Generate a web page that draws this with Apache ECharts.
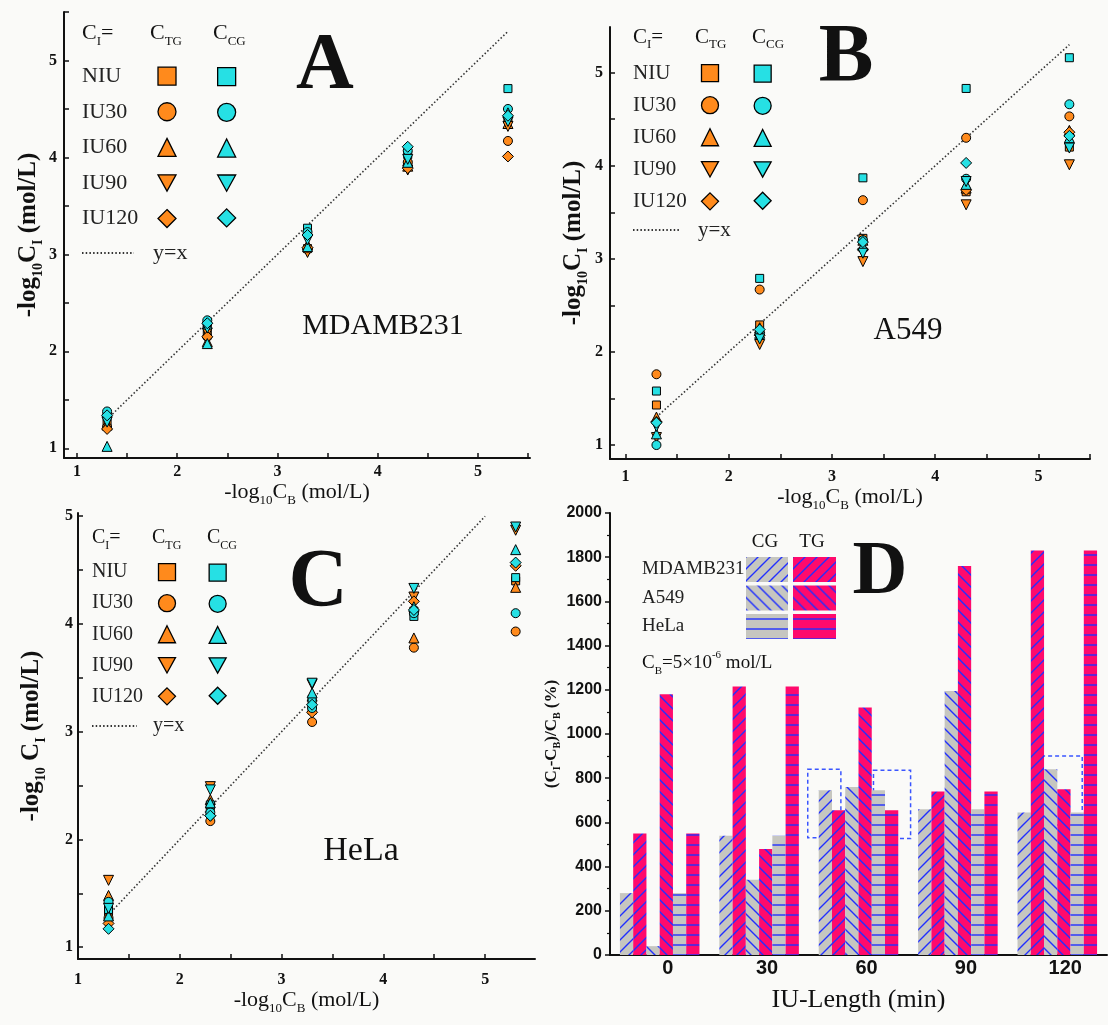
<!DOCTYPE html>
<html>
<head>
<meta charset="utf-8">
<script src="https://cdn.jsdelivr.net/npm/echarts@6/dist/echarts.min.js"></script>
<style>
  html, body { margin: 0; padding: 0; background: #fafaf8; }
  #chart { width: 1108px; height: 1025px; }
</style>
</head>
<body>
<div id="chart"></div>
<script>
// ---- data ----
// x position of every point: -log10 CB for CB = 5e-2 ... 5e-6 mol/L
const logCB = [1.3, 2.3, 3.3, 4.3, 5.3];
const protocols = ['NIU', 'IU30', 'IU60', 'IU90', 'IU120'];
const intTicks = [1, 2, 3, 4, 5];
const halfTicks = [1, 1.5, 2, 2.5, 3, 3.5, 4, 4.5, 5, 5.5];

// -log10 CI, one row per protocol (NIU, IU30, IU60, IU90, IU120)
const mdaTG = [
  [1.25, 2.20, 3.06, 3.93, 4.40],
  [1.22, 2.15, 3.05, 3.95, 4.17],
  [1.24, 2.10, 3.10, 3.91, 4.35],
  [1.28, 2.19, 3.02, 3.87, 4.32],
  [1.20, 2.15, 3.07, 3.89, 4.01]
];
const mdaCG = [
  [1.33, 2.27, 3.27, 4.03, 4.71],
  [1.38, 2.32, 3.23, 4.07, 4.50],
  [1.02, 2.08, 3.08, 3.95, 4.46],
  [1.27, 2.24, 3.15, 3.98, 4.37],
  [1.34, 2.29, 3.20, 4.11, 4.43]
];
const a549TG = [
  [1.43, 2.29, 3.22, 3.72, 4.20],
  [1.76, 2.67, 3.63, 4.30, 4.53],
  [1.30, 2.26, 3.20, 3.76, 4.38],
  [1.08, 2.08, 2.97, 3.58, 4.01],
  [1.25, 2.18, 3.10, 3.74, 4.36]
];
const a549CG = [
  [1.58, 2.79, 3.87, 4.83, 5.16],
  [1.00, 2.20, 3.20, 3.86, 4.66],
  [1.12, 2.20, 3.14, 3.80, 4.30],
  [1.20, 2.14, 3.06, 3.83, 4.19],
  [1.24, 2.24, 3.18, 4.03, 4.32]
];
const helaTG = [
  [1.33, 2.30, 3.20, 4.12, 4.40],
  [1.27, 2.17, 3.09, 3.78, 3.93],
  [1.48, 2.37, 3.33, 3.87, 4.34],
  [1.62, 2.49, 3.44, 4.25, 4.87],
  [1.22, 2.22, 3.18, 4.21, 4.54]
];
const helaCG = [
  [1.35, 2.32, 3.30, 4.07, 4.43],
  [1.42, 2.25, 3.22, 4.10, 4.10],
  [1.29, 2.34, 3.36, 4.16, 4.69],
  [1.36, 2.46, 3.45, 4.33, 4.90],
  [1.17, 2.22, 3.25, 4.13, 4.57]
];
// ends of the y=x reference lines
const yxA = [1.3, 5.3];
const yxB = [1.3, 5.3];
const yxC = [1.3, 5.0];

// panel D: (CI-CB)/CB in %, CB = 5e-6 mol/L
const iuLength = ['0', '30', '60', '90', '120'];
const mdaCGpct = [280, 540, 745, 660, 645];
const mdaTGpct = [550, 1215, 655, 740, 1830];
const a549CGpct = [40, 340, 760, 1195, 840];
const a549TGpct = [1180, 480, 1120, 1760, 750];
const helaCGpct = [280, 540, 745, 660, 645];
const helaTGpct = [550, 1215, 655, 740, 1830];
// dashed boxes: [category index, from slot, to slot, low %, high %]
const dBoxes = [
  [2, -3.83, -1.33, 530, 840],
  [2, 1.13, 3.93, 527, 836],
  [4, -1.75, 1.88, 588, 900]
];

// ---- styles ----
const serif = '"Liberation Serif", "Times New Roman", serif';
const sans = '"Liberation Sans", Arial, sans-serif';
const ink = '#111';
const orange = '#ff8a1c';
const cyan = '#26e0e4';
const grey = '#c6c6c0';
const pink = '#ff0a6c';
const symbols = ['rect', 'circle', 'triangle', 'path://M0,0L10,0L5,9Z', 'diamond'];
const symSizes = [8, 9, 10, 10, 11];

function hatch(bg, kind) {
  const s = kind === '-' ? 10 : 12;
  const c = document.createElement('canvas');
  c.width = c.height = s;
  const g = c.getContext('2d');
  g.fillStyle = bg;
  g.fillRect(0, 0, s, s);
  g.strokeStyle = '#2130ff';
  g.lineWidth = 1.4;
  g.beginPath();
  if (kind === '/') {
    g.moveTo(-1, s + 1); g.lineTo(s + 1, -1);
    g.moveTo(-1, 1); g.lineTo(1, -1);
    g.moveTo(s - 1, s + 1); g.lineTo(s + 1, s - 1);
  } else if (kind === '\\') {
    g.moveTo(-1, -1); g.lineTo(s + 1, s + 1);
    g.moveTo(s - 1, -1); g.lineTo(s + 1, 1);
    g.moveTo(-1, s - 1); g.lineTo(1, s + 1);
  } else {
    g.moveTo(0, s / 2); g.lineTo(s, s / 2);
  }
  g.stroke();
  return { image: c, repeat: 'repeat' };
}

function richName(text, size, bold, lh) {
  const w = bold ? 'bold' : 'normal';
  return {
    name: text,
    nameTextStyle: {
      rich: {
        m: { fontSize: size, fontWeight: w, fontFamily: serif, color: ink, lineHeight: lh },
        s: { fontSize: Math.round(size * 0.58), fontWeight: w, fontFamily: serif, color: ink,
             lineHeight: Math.round(size * 0.58), verticalAlign: 'bottom' }
      }
    }
  };
}

function valueAxis(gi, min, max, nm, gap, margin, extra) {
  return Object.assign({
    type: 'value', gridIndex: gi, min: min, max: max,
    nameLocation: 'middle', nameGap: gap,
    axisLine: { lineStyle: { color: ink, width: 2 } },
    axisTick: { inside: true, length: 5, customValues: halfTicks, lineStyle: { color: ink, width: 1.5 } },
    axisLabel: { customValues: intTicks, color: ink, fontFamily: serif, fontWeight: 'bold', fontSize: 16, margin: margin },
    splitLine: { show: false }
  }, nm, extra || {});
}

// scatter panels layout
const panels = [
  { key: 'A', tg: mdaTG, cg: mdaCG, yx: yxA,
    grid: { left: 64, top: 12, width: 466, height: 446 },
    x: [0.87, 5.52], y: [0.9, 5.5], xGap: 18, yGap: 19, xMargin: 6, yMargin: 7, yName: '{m|-log}{s|10}{m|C}{s|I}{m| (mol/L)}',
    lg: { left: 82, first: 76, pitch: 35.3, s: 18, tgX: 167, cgX: 226, font: 22, lineY: 253, lineW: 52, linePad: 14,
          head: 33, heads: [82, 150, 213] } },
  { key: 'B', tg: a549TG, cg: a549CG, yx: yxB,
    grid: { left: 610, top: 27, width: 480, height: 432 },
    x: [0.85, 5.5], y: [0.85, 5.49], xGap: 18, yGap: 20, xMargin: 10, yMargin: 7, yName: '{m|-log}{s|10}{m|C}{s|I}{m| (mol/L)}',
    lg: { left: 633, first: 73, pitch: 31.75, s: 17, tgX: 710, cgX: 762, font: 21, lineY: 230, lineW: 46, linePad: 14,
          head: 37, heads: [633, 695, 752] } },
  { key: 'C', tg: helaTG, cg: helaCG, yx: yxC,
    grid: { left: 78, top: 513, width: 457, height: 446 },
    x: [1.0, 5.49], y: [0.89, 5.03], xGap: 26, yGap: 30, xMargin: 13, yMargin: 5, yName: '{m|-log}{s|10}{m| C}{s|I}{m| (mol/L)}',
    lg: { left: 92, first: 572, pitch: 30.75, s: 17, tgX: 167, cgX: 217, font: 20, lineY: 726, lineW: 45, linePad: 11,
          head: 538, heads: [92, 152, 207] } }
];

const grids = [];
const xAxes = [];
const yAxes = [];
const series = [];
const legends = [];
const graphics = [];

function txt(x, y, text, size, weight, align, rich) {
  return {
    type: 'text', x: x, y: y, silent: true,
    style: { text: text, fontSize: size, fontWeight: weight || 'normal', fontFamily: serif, fill: ink,
             align: align || 'center', verticalAlign: 'middle', rich: rich }
  };
}
function subRich(size) {
  return {
    m: { fontSize: size, fontFamily: serif, fill: ink, color: ink, lineHeight: size + 8 },
    s: { fontSize: Math.round(size * 0.6), fontFamily: serif, color: ink, lineHeight: Math.round(size * 0.6), verticalAlign: 'bottom' },
    p: { fontSize: Math.round(size * 0.6), fontFamily: serif, color: ink, lineHeight: Math.round(size * 0.6), verticalAlign: 'top' }
  };
}

panels.forEach((p, gi) => {
  grids.push(p.grid);
  xAxes.push(valueAxis(gi, p.x[0], p.x[1], richName('{m|-log}{s|10}{m|C}{s|B}{m| (mol/L)}', 22, false, 30), p.xGap, p.xMargin));
  yAxes.push(valueAxis(gi, p.y[0], p.y[1], richName(p.yName, 25, true, 32), p.yGap, p.yMargin));

  const lineName = p.key + ' y=x';
  series.push({
    type: 'line', name: lineName, xAxisIndex: gi, yAxisIndex: gi, symbol: 'none', z: 1, silent: true,
    data: p.yx.map(v => [v, v]),
    lineStyle: { color: '#333', width: 1.6, type: [1.5, 2.2] }
  });
  const tgNames = [], cgNames = [];
  protocols.forEach((prot, k) => {
    ['TG', 'CG'].forEach(grp => {
      const name = p.key + ' ' + grp + ' ' + prot;
      (grp === 'TG' ? tgNames : cgNames).push(name);
      const vals = grp === 'TG' ? p.tg[k] : p.cg[k];
      series.push({
        type: 'scatter', name: name, xAxisIndex: gi, yAxisIndex: gi,
        symbol: symbols[k], symbolSize: symSizes[k], z: grp === 'TG' ? 3 : 4,
        data: logCB.map((x, i) => [x, vals[i]]),
        itemStyle: { color: grp === 'TG' ? orange : cyan, borderColor: '#000', borderWidth: 1, opacity: 1 }
      });
    });
  });

  const L = p.lg;
  const s = L.s;
  const rowRich = { t: { width: L.tgX - s / 2 - 5 - L.left, align: 'left', fontSize: L.font, fontFamily: serif, color: '#222', lineHeight: s } };
  legends.push({
    orient: 'vertical', align: 'right', left: L.left, top: L.first - (L.font - 0.3) / 2, padding: 0,
    itemWidth: s, itemHeight: s, itemGap: L.pitch - (L.font - 0.3), selectedMode: false,
    data: tgNames, formatter: n => '{t|' + n.split(' ')[2] + '}',
    textStyle: { rich: rowRich },
    itemStyle: { borderColor: '#000', borderWidth: 1.3 }
  });
  legends.push({
    orient: 'vertical', align: 'left', left: L.cgX - s / 2, top: L.first - s / 2, padding: 0,
    itemWidth: s, itemHeight: s, itemGap: L.pitch - (s + 0.9), selectedMode: false,
    data: cgNames, formatter: () => '',
    itemStyle: { borderColor: '#000', borderWidth: 1.3 }
  });
  legends.push({
    orient: 'horizontal', align: 'left', left: L.left - 1, top: L.lineY - L.font / 2, padding: 0,
    itemWidth: L.lineW, itemHeight: 14, selectedMode: false,
    data: [lineName], formatter: () => '{t|y=x}',
    itemStyle: { opacity: 0 },
    textStyle: { rich: { t: { fontSize: L.font, fontFamily: serif, color: '#222', padding: [0, 0, 0, L.linePad], lineHeight: 14 } } }
  });

  const hr = subRich(L.font);
  graphics.push(txt(L.heads[0], L.head, '{m|C}{s|I}{m|=}', L.font, 'normal', 'left', hr));
  graphics.push(txt(L.heads[1], L.head, '{m|C}{s|TG}', L.font, 'normal', 'left', hr));
  graphics.push(txt(L.heads[2], L.head, '{m|C}{s|CG}', L.font, 'normal', 'left', hr));
});

// big panel letters and cell line names
graphics.push(txt(325, 67, 'A', 80, 'bold'));
graphics.push(txt(846, 59, 'B', 82, 'bold'));
graphics.push(txt(318, 584, 'C', 82, 'bold'));
graphics.push(txt(880, 573, 'D', 76, 'bold'));
graphics.push(txt(383, 326, 'MDAMB231', 30));
graphics.push(txt(908, 331, 'A549', 31));
graphics.push(txt(361, 851, 'HeLa', 34));

// ---- panel D (bars) ----
grids.push({ left: 610, top: 513, width: 497, height: 442 });
xAxes.push({
  type: 'category', gridIndex: 3, data: iuLength,
  name: 'IU-Length (min)', nameLocation: 'middle', nameGap: 32,
  nameTextStyle: { fontFamily: serif, fontSize: 26, color: ink },
  axisLine: { lineStyle: { color: ink, width: 2 } },
  axisTick: { inside: true, length: 4, lineStyle: { color: ink, width: 1.5 } },
  axisLabel: { color: ink, fontFamily: sans, fontWeight: 'bold', fontSize: 20, margin: 3, padding: [0, 0, 0, 16] }
});
yAxes.push(Object.assign({
  type: 'value', gridIndex: 3, min: 0, max: 2000, interval: 200,
  nameLocation: 'middle', nameGap: 38,
  axisLine: { show: true, lineStyle: { color: ink, width: 2 } },
  axisTick: { show: true, length: 5, lineStyle: { color: ink, width: 1.5 } },
  minorTick: { show: true, splitNumber: 2, length: 3, lineStyle: { color: ink, width: 1.2 } },
  axisLabel: { color: ink, fontFamily: sans, fontWeight: 'bold', fontSize: 16, margin: 8, formatter: v => String(v) },
  splitLine: { show: false }
}, richName('{m|(C}{s|I}{m|-C}{s|B}{m|)/C}{s|B}{m| (%)}', 17, true, 22)));

const barDefs = [
  ['MDAMB231 CG', mdaCGpct, hatch(grey, '/')],
  ['MDAMB231 TG', mdaTGpct, hatch(pink, '/')],
  ['A549 CG', a549CGpct, hatch(grey, '\\')],
  ['A549 TG', a549TGpct, hatch(pink, '\\')],
  ['HeLa CG', helaCGpct, hatch(grey, '-')],
  ['HeLa TG', helaTGpct, hatch(pink, '-')]
];
barDefs.forEach(b => {
  series.push({
    type: 'bar', name: b[0], xAxisIndex: 3, yAxisIndex: 3, data: b[1], z: 2,
    barGap: '0%', barCategoryGap: '20%',
    itemStyle: { color: b[2] }
  });
});
series.push({
  type: 'custom', name: 'boxes', xAxisIndex: 3, yAxisIndex: 3, z: 1, silent: true,
  data: dBoxes, encode: { x: 0, y: [3, 4] },
  renderItem: (params, api) => {
    const slot = api.size([1, 0])[0] * 0.8 / 6;
    const top = api.coord([api.value(0), api.value(4)]);
    const bottom = api.coord([api.value(0), api.value(3)]);
    const x0 = top[0] + api.value(1) * slot;
    const x1 = top[0] + api.value(2) * slot;
    return {
      type: 'rect',
      shape: { x: x0, y: top[1], width: x1 - x0, height: bottom[1] - top[1] },
      style: { fill: 'none', stroke: '#3a55ff', lineWidth: 1.5, lineDash: [4, 3] }
    };
  }
});

legends.push({
  orient: 'vertical', align: 'right', left: 642, top: 557, padding: 0, icon: 'rect',
  itemWidth: 42, itemHeight: 25, itemGap: 3.5, selectedMode: false,
  data: ['MDAMB231 CG', 'A549 CG', 'HeLa CG'], formatter: n => '{t|' + n.split(' ')[0] + '}',
  textStyle: { rich: { t: { width: 99, align: 'left', fontSize: 19, fontFamily: serif, color: '#222', lineHeight: 25 } } }
});
legends.push({
  orient: 'vertical', align: 'left', left: 793, top: 557, padding: 0, icon: 'rect',
  itemWidth: 43, itemHeight: 25, itemGap: 3.5, selectedMode: false,
  data: ['MDAMB231 TG', 'A549 TG', 'HeLa TG'], formatter: () => ''
});
graphics.push(txt(765, 542, 'CG', 19));
graphics.push(txt(812, 542, 'TG', 19));
graphics.push(txt(642, 663, '{m|C}{s|B}{m|=5×10}{p|-6}{m| mol/L}', 19, 'normal', 'left', subRich(19)));

const chart = echarts.init(document.getElementById('chart'));
chart.setOption({
  backgroundColor: '#fafaf8',
  animation: false,
  grid: grids,
  xAxis: xAxes,
  yAxis: yAxes,
  legend: legends,
  series: series,
  graphic: graphics
});
</script>
</body>
</html>
